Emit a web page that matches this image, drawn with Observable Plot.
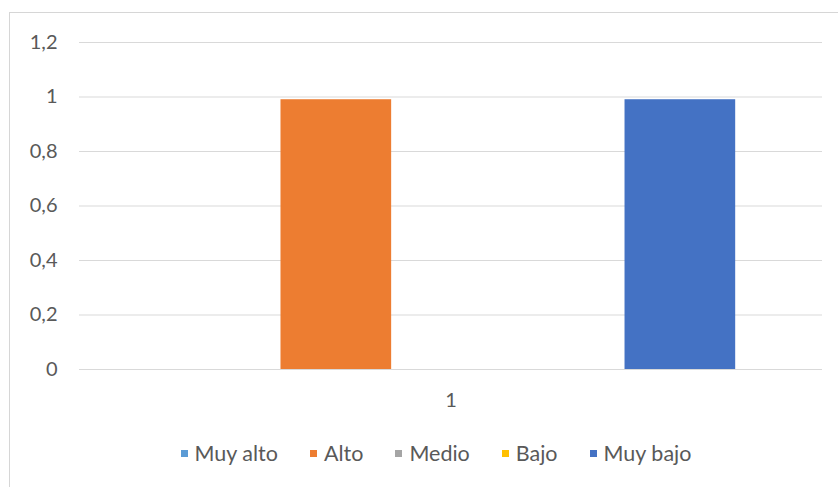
<!DOCTYPE html>
<html>
<head>
<meta charset="utf-8">
<script src="https://cdn.jsdelivr.net/npm/d3@7"></script>
<script src="https://cdn.jsdelivr.net/npm/@observablehq/plot@0.6"></script>
<style>
  html, body { margin: 0; padding: 0; background: #fff; }
  body { width: 838px; height: 487px; overflow: hidden; position: relative; font-family: Lato, "Open Sans", sans-serif; }
  #border { position: absolute; left: 9px; top: 12px; width: 840px; height: 490px; border-left: 1px solid #d6d6d6; border-top: 1px solid #d6d6d6; box-sizing: border-box; pointer-events: none; }
  #chart { position: absolute; left: 0; top: 0; }
  #legend { position: absolute; left: 0; top: 441px; width: 838px; height: 24px; display: flex; justify-content: center; align-items: center; color: #595959; font-size: 21.5px; padding-left: 34px; box-sizing: border-box; }
  .item { display: flex; align-items: center; margin: 0 16px; line-height: 24px; }
  .sw { width: 7px; height: 7px; margin-right: 7px; }
</style>
</head>
<body>
<div id="chart"></div>
<div id="legend"></div>
<div id="border"></div>
<script>
const categories = ["1"];
const series = ["Muy alto", "Alto", "Medio", "Bajo", "Muy bajo"];
const values = [0, 0.99, 0, 0, 0.99];
const colors = ["#5B9BD5", "#ED7D31", "#A5A5A5", "#FFC000", "#4472C4"];
const yTicks = [0, 0.2, 0.4, 0.6, 0.8, 1, 1.2];
const yTickLabels = ["0", "0,2", "0,4", "0,6", "0,8", "1", "1,2"];

const rows = series.map((s, i) => ({cat: categories[0], series: s, value: values[i]}));

const chart = Plot.plot({
  width: 838,
  height: 420,
  marginLeft: 79,
  marginRight: 16,
  marginTop: 42,
  marginBottom: 51,
  style: {fontFamily: "Lato, 'Open Sans', sans-serif", fontSize: "20px", color: "#595959", background: "transparent"},
  fx: {domain: categories, padding: 0, tickSize: 0, tickPadding: 23, label: null, axis: "bottom"},
  x: {domain: series, paddingInner: 0.035, paddingOuter: 0.757, round: false, axis: null},
  y: {domain: [0, 1.2], ticks: yTicks, tickFormat: d => yTickLabels[yTicks.indexOf(d)], tickSize: 0, tickPadding: 22, label: null},
  color: {domain: series, range: colors},
  marks: [
    Plot.ruleY(yTicks, {stroke: "#d9d9d9", strokeWidth: 1}),
    Plot.ruleX(categories, {fx: d => d, y1: 0, y2: -0.03, dx: -371.5, stroke: "#d9d9d9"}),
    Plot.ruleX(categories, {fx: d => d, y1: 0, y2: -0.03, dx: 371.5, stroke: "#d9d9d9"}),
    Plot.barY(rows, {fx: "cat", x: "series", y: "value", fill: "series", inset: 0})
  ]
});
document.getElementById("chart").appendChild(chart);

const legend = document.getElementById("legend");
series.forEach((s, i) => {
  const it = document.createElement("div");
  it.className = "item";
  const sw = document.createElement("span");
  sw.className = "sw";
  sw.style.background = colors[i];
  const tx = document.createElement("span");
  tx.textContent = s;
  it.appendChild(sw);
  it.appendChild(tx);
  legend.appendChild(it);
});
</script>
</body>
</html>
